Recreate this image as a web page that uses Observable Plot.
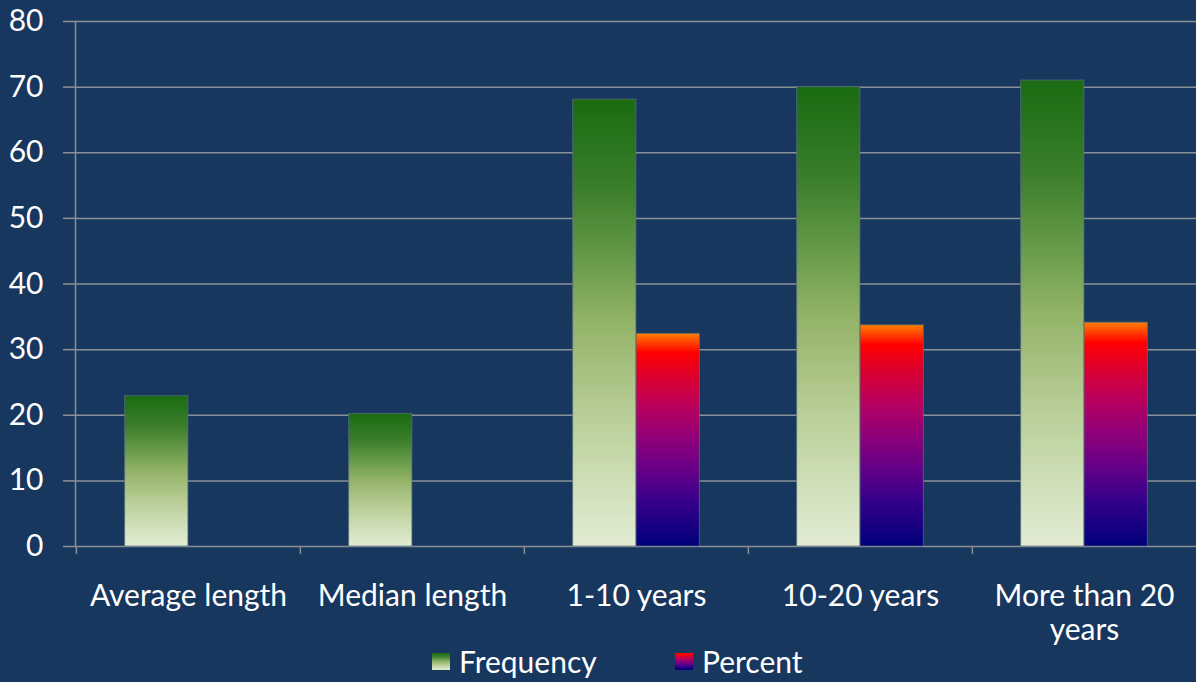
<!DOCTYPE html>
<html><head><meta charset="utf-8">
<script src="https://cdn.jsdelivr.net/npm/d3@7"></script>
<script src="https://cdn.jsdelivr.net/npm/@observablehq/plot@0.6"></script>
<style>
html,body{margin:0;padding:0;background:#17375e;}
body{width:1196px;height:682px;overflow:hidden;font-family:Lato,sans-serif;color:#fff;}
#chart svg{display:block;}
#legend{position:relative;height:34px;font-size:30px;}
.item{position:absolute;top:-4px;height:34px;display:flex;align-items:center;}
.sw{width:18px;height:17px;margin-right:9px;}
</style></head><body>
<div id="chart"></div>
<div id="legend"></div>
<script>
const categories = ["Average length","Median length","1-10 years","10-20 years","More than 20 years"];
const xTickLabels = ["Average length","Median length","1-10 years","10-20 years","More than 20\nyears"];
const seriesNames = ["Frequency","Percent"];
const frequency = [22.9, 20.2, 68.1, 70.0, 71.0];
const percent = [null, null, 32.4, 33.7, 34.1];
const yTicks = [0,10,20,30,40,50,60,70,80];

const W = 1196, H = 648, ML = 75, MR = 0, MT = 21, MB = 102;
const step = (W - ML - MR) / categories.length;
const bw = step * 0.283;
const gridColor = "#8b9096";

const freqData = categories.map((c,i)=>({category:c, value:frequency[i]}));
const pctData = categories.map((c,i)=>({category:c, value:percent[i]})).filter(d=>d.value!=null);
const labelOf = new Map(categories.map((c,i)=>[c, xTickLabels[i]]));

const freqStops = [[0,"#1a6b12"],[0.2,"#3a7e2b"],[0.37,"#6a9c4c"],[0.5,"#93b368"],[0.7,"#b7cd95"],[0.87,"#d0e0ba"],[1,"#e2ecd4"]];
const pctStops = [[0,"#ff7f00"],[0.09,"#ff0000"],[0.2,"#dd002c"],[0.35,"#b8005f"],[0.5,"#8e007a"],[0.65,"#640088"],[0.8,"#34008a"],[1,"#00007a"]];

function defs() {
  const d = d3.create("svg:defs");
  for (const [id, stops] of [["gFreq", freqStops], ["gPct", pctStops]]) {
    const g = d.append("linearGradient").attr("id", id).attr("x1",0).attr("y1",0).attr("x2",0).attr("y2",1);
    for (const [o,c] of stops) g.append("stop").attr("offset", o).attr("stop-color", c);
  }
  return d.node();
}

const chart = Plot.plot({
  width: W, height: H,
  marginLeft: ML, marginRight: MR, marginTop: MT, marginBottom: MB,
  style: {background: "transparent", color: "#fff", fontFamily: "Lato, sans-serif", fontSize: "30px"},
  x: {domain: categories, padding: 0, label: null},
  y: {domain: [0, 80], label: null},
  marks: [
    defs,
    Plot.gridY(yTicks, {stroke: gridColor, strokeOpacity: 1, strokeWidth: 1.5}),
    Plot.frame({anchor: "left", stroke: gridColor, strokeWidth: 1.5}),
    Plot.axisY(yTicks, {tickSize: 12, tickPadding: 20, stroke: gridColor, strokeWidth: 1.5, fill: "#fff", fontSize: 30, label: null}),
    Plot.axisX({tickSize: 8, tickFormat: () => "", dx: -step/2, stroke: gridColor, strokeWidth: 1.5, label: null}),
    Plot.axisX({tickSize: 0, tickPadding: 36, fill: "#fff", fontSize: 30, lineHeight: 1.12, label: null, tickFormat: d => labelOf.get(d)}),
    Plot.barY(freqData, {x: "category", y: "value", fill: "url(#gFreq)", stroke: "#5d6f80", strokeWidth: 1, strokeOpacity: 0.7,
      insetLeft: step/2 - bw, insetRight: step/2}),
    Plot.barY(pctData, {x: "category", y: "value", fill: "url(#gPct)", stroke: "#5d6f80", strokeWidth: 1, strokeOpacity: 0.7,
      insetLeft: step/2, insetRight: step/2 - bw})
  ]
});
document.getElementById("chart").append(chart);

const legend = document.getElementById("legend");
const legendLeft = [432, 675];
seriesNames.forEach((name, i) => {
  const stops = i === 0 ? freqStops : pctStops.slice(1);
  const item = document.createElement("div");
  item.className = "item";
  item.style.left = legendLeft[i] + "px";
  const sw = document.createElement("div");
  sw.className = "sw";
  sw.style.background = `linear-gradient(to bottom, ${stops.map(([o,c])=>`${c} ${o*100}%`).join(", ")})`;
  const t = document.createElement("span");
  t.textContent = name;
  item.append(sw, t);
  legend.append(item);
});
</script>
</body></html>
